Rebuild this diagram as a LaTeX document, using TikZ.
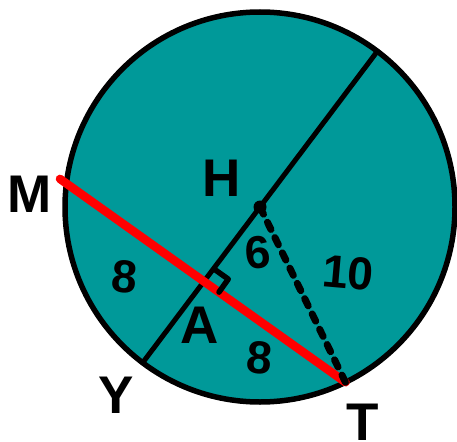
\documentclass[tikz,border=0pt]{standalone}
\usepackage{fontspec}
\setmainfont{Liberation Sans}
\usetikzlibrary{calc}
\definecolor{discteal}{RGB}{0,153,153}
\definecolor{chordred}{RGB}{255,0,0}

\begin{document}
\begin{tikzpicture}[x=1pt, y=-1pt, line cap=round, line join=round,
  letter/.style={inner sep=0pt, font=\fontsize{53}{53}\selectfont\bfseries},
  digit/.style={inner sep=0pt, font=\fontsize{46}{46}\selectfont\bfseries}]
  \useasboundingbox (0,0) rectangle (457,441);
  % The disc, centred on H.
  \coordinate (H) at (260,207);
  \fill[discteal, draw=black, line width=5.5pt] (H) circle (195pt);
  % Diameter through H, and the chord MT cut by it at right angles in A.
  \coordinate (D1) at ($(H)+(-53:195)$);
  \coordinate (Y) at ($(H)+(127:195)$);
  \coordinate (M) at ($(H)+(186.6:193)$);
  \coordinate (T) at ($(H)+(64:195)$);
  \coordinate (A) at ($(M)!(H)!(T)$);
  \draw[line width=5pt] (D1) -- (Y);
  \draw[line width=5pt] (M) -- (T);
  % Red overlay on the chord, running a little past M.
  \coordinate (M0) at ($(T)!1.03!(M)$);
  \draw[chordred, line width=8.5pt] (M0) -- (T);
  % Radius HT, dashed.
  \draw[line width=7pt, dash pattern=on 8pt off 9pt] (H) -- (T);
  \fill (H) circle (6.5pt);
  % Right angle mark at A.
  \coordinate (A1) at ($(A)!16pt!(H)$);
  \coordinate (A2) at ($(A)!16pt!(T)$);
  \draw[line width=5.5pt] (A1) -- ($(A1)+(A2)-(A)$) -- (A2);
  % Letters.
  \node[letter] (lM) at (30,194) {M};
  \node[letter] (lH) at (222,178) {H};
  \node[letter] (lA) at (200,325) {A};
  \node[letter] (lY) at (116,395) {Y};
  \node[letter] (lT) at (363,422) {T};
  % Lengths.
  \node[digit, rotate=-5] (nMA) at (125,277) {8};
  \node[digit, rotate=5] (nHA) at (258,253) {6};
  \node[digit, rotate=-5] (nHT) at (348,273) {10};
  \node[digit, rotate=-5] (nAT) at (260,358) {8};
\end{tikzpicture}
\end{document}
